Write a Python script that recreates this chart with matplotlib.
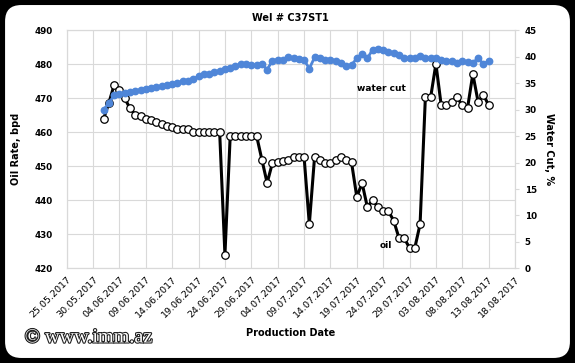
import numpy as np
import pandas as pd
import matplotlib
matplotlib.use("Agg")
from matplotlib import pyplot as plt
import matplotlib.dates as mdates
from matplotlib.patches import FancyBboxPatch
import matplotlib.patheffects as pe

# Daily production data, well C37ST1 (01.06.2017 - 13.08.2017)

dates = pd.date_range("2017-06-01", "2017-08-13", freq="D")

oil_rate = [464.0, 468.7, 474.0, 472.6, 470.0, 467.1, 465.2, 464.9, 464.0, 463.6,
            463.0, 462.6, 462.0, 461.7, 461.1, 461.0, 460.9, 460.1, 460.1, 460.1,
            460.1, 460.1, 460.1, 424.0, 459.0, 459.0, 459.0, 459.0, 459.0, 459.0,
            452.0, 445.1, 451.0, 451.2, 451.6, 452.0, 452.9, 452.9, 452.9, 433.0,
            452.9, 451.9, 451.0, 451.0, 451.9, 452.9, 451.9, 451.2, 441.0, 445.1,
            438.0, 440.1, 438.0, 436.8, 436.8, 434.0, 428.9, 428.8, 426.0, 426.0,
            433.0, 470.3, 470.3, 480.2, 468.0, 468.0, 469.0, 470.3, 468.0, 467.2,
            477.2, 469.0, 471.1, 468.0]

water_cut = [30.0, 31.3, 32.7, 33.0, 33.2, 33.4, 33.6, 33.8, 34.0, 34.1,
             34.3, 34.4, 34.6, 34.9, 35.1, 35.4, 35.5, 35.9, 36.3, 36.7,
             36.8, 37.2, 37.4, 37.8, 37.9, 38.2, 38.6, 38.6, 38.4, 38.4,
             38.7, 37.6, 39.3, 39.5, 39.5, 39.9, 39.7, 39.6, 39.4, 37.8,
             39.9, 39.7, 39.5, 39.5, 39.3, 38.9, 38.3, 38.5, 39.7, 40.6,
             39.7, 41.4, 41.5, 41.4, 41.0, 40.8, 40.3, 39.8, 39.7, 39.8,
             40.1, 39.8, 39.7, 39.8, 39.5, 39.3, 39.3, 38.9, 39.2, 39.1,
             38.9, 39.7, 38.7, 39.2]

x_start = pd.Timestamp("2017-05-25")
x_end = pd.Timestamp("2017-08-18")

grid_color = '#d9d9d9'
blue = '#4f86d8'

fig = plt.figure(figsize=(5.75, 3.63), dpi=100)
fig.patch.set_facecolor('black')

# rounded chart frame
frame = FancyBboxPatch((0.007, 0.011), 0.986, 0.978, boxstyle="round,pad=0,rounding_size=0.03",
                       transform=fig.transFigure, facecolor='white', edgecolor='black',
                       linewidth=1.5, zorder=-10, mutation_aspect=575 / 363)
fig.patches.append(frame)

ax = fig.add_axes([0.116, 0.261, 0.7797, 0.655])
ax.set_facecolor('none')

ax.plot(dates, oil_rate, color='black', linewidth=2.2, marker='o', markersize=5.4,
        markerfacecolor='white', markeredgecolor='black', markeredgewidth=0.9, zorder=3)

ax.set_xlim(x_start, x_end)
ax.set_ylim(420, 490)
ax.set_yticks(np.arange(420, 491, 10))
ax.set_xticks(pd.date_range(x_start, x_end, freq="5D"))
ax.xaxis.set_major_formatter(mdates.DateFormatter("%d.%m.%Y"))
plt.setp(ax.get_xticklabels(), rotation=45, ha='right', rotation_mode='anchor', fontsize=6.8)
for lbl in ax.get_yticklabels():
    lbl.set_fontsize(6.3)
    lbl.set_fontweight('bold')
ax.tick_params(axis='x', length=0, pad=5)
ax.tick_params(axis='y', length=0, pad=10)
ax.grid(True, color=grid_color, linewidth=0.8)
ax.set_axisbelow(True)
for s in ax.spines.values():
    s.set_color(grid_color)
    s.set_linewidth(0.8)

ax.set_ylabel("Oil Rate, bpd", fontsize=7, fontweight='bold', labelpad=10)
ax.set_xlabel("Production Date", fontsize=7, fontweight='bold', labelpad=6)
ax.set_title("Wel # C37ST1", fontsize=7, fontweight='bold', pad=7)

# water cut on secondary axis
ax2 = ax.twinx()
ax2.plot(dates, water_cut, color=blue, linewidth=2.0, marker='o', markersize=4.6,
         markerfacecolor=blue, markeredgecolor=blue, zorder=4)
ax2.set_ylim(0, 45)
ax2.set_yticks(np.arange(0, 46, 5))
for lbl in ax2.get_yticklabels():
    lbl.set_fontsize(6.3)
    lbl.set_fontweight('bold')
ax2.tick_params(axis='y', length=3, color=grid_color, pad=4)
for s in ax2.spines.values():
    s.set_color(grid_color)
    s.set_linewidth(0.8)
ax2.set_ylabel("Water Cut, %", fontsize=7, fontweight='bold', rotation=270, labelpad=12)

ax.text(0.701, 0.758, "water cut", transform=ax.transAxes, fontsize=6.5,
        fontweight='bold', ha='center', va='center')
ax.text(0.712, 0.094, "oil", transform=ax.transAxes, fontsize=6.5,
        fontweight='bold', ha='center', va='center')

# watermark
fig.text(0.043, 0.069, "\u00a9 www.imm.az", fontsize=14.5, family='Liberation Serif',
         color='white', ha='left', va='center',
         path_effects=[pe.withStroke(linewidth=1.6, foreground='#222222')])

fig.savefig("out.png", dpi=100, facecolor=fig.get_facecolor())
